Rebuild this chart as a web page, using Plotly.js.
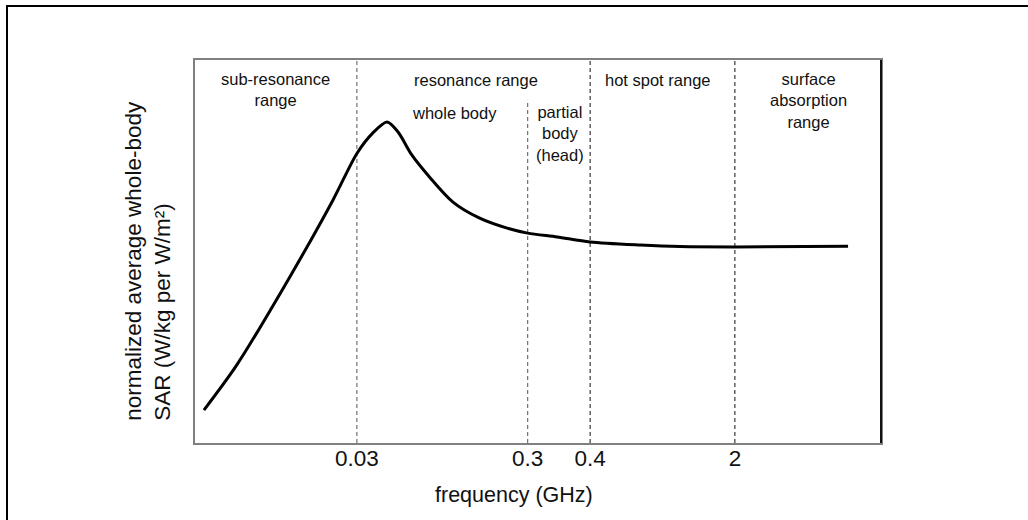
<!DOCTYPE html>
<html>
<head>
<meta charset="utf-8">
<script src="https://cdn.plot.ly/plotly-3.0.1.min.js"></script>
<style>
  html, body { margin: 0; padding: 0; background: #fff; }
  #wrap { position: relative; width: 1028px; height: 520px; overflow: hidden; }
  #frame { position: absolute; left: 6px; top: 5px; width: 1040px; height: 540px;
           border-left: 2px solid #000; border-top: 2px solid #000; pointer-events: none; }
  #chart { position: absolute; left: 0; top: 0; width: 1028px; height: 520px; }
</style>
</head>
<body>
<div id="wrap">
  <div id="chart"></div>
  <div id="frame"></div>
</div>
<script>
// Schematic frequency position (0-100 across the axis) and normalized SAR (0-100)
const curveX = [1.3, 6.1, 13.8, 20.1, 23.6, 25.9, 28.0, 29.6, 31.6, 34.3, 37.6, 41.5, 45.5, 48.5, 52.8, 57.6, 64.9, 70.7, 78.7, 95.2];
const curveY = [8.6, 20.4, 43.3, 63.4, 75.6, 80.9, 83.8, 81.2, 75.2, 69.2, 62.9, 58.7, 56.1, 54.8, 53.8, 52.5, 51.7, 51.3, 51.2, 51.4];

// Boundary frequencies (tick positions and labels)
const tickPos = [23.6, 48.5, 57.6, 78.7];
const tickLabels = ['0.03', '0.3', '0.4', '2'];
// Top of each boundary line (fraction of plot height)
const boundaryTop = [1, 0.896, 1, 1];
const boundaryColor = ['#555', '#555', '#111', '#111'];

// Range labels
const labelText = ['sub-resonance<br>range', 'resonance range', 'whole body', 'partial<br>body<br>(head)', 'hot spot range', 'surface<br>absorption<br>range'];
const labelX = [11.8, 41.0, 37.9, 53.2, 67.5, 89.4];
const labelY = [0.922, 0.948, 0.862, 0.807, 0.948, 0.893];

const FONT = '"Liberation Sans", Arial, sans-serif';

const shapes = tickPos.map((p, i) => ({
  type: 'line', xref: 'x', yref: 'paper', x0: p, x1: p, y0: 0, y1: boundaryTop[i],
  line: { color: boundaryColor[i], width: 1, dash: '4px,3px' }, layer: 'below'
}));
shapes.push({ type: 'line', xref: 'paper', yref: 'paper', x0: 1, x1: 1, y0: 0, y1: 1,
  line: { color: '#111', width: 2 } });

const annotations = labelText.map((t, i) => ({
  text: t, x: labelX[i], y: labelY[i], xref: 'x', yref: 'paper',
  xanchor: 'center', yanchor: 'middle', showarrow: false, align: 'center',
  font: { family: FONT, size: 16.5, color: '#111' }
}));
annotations.push({
  text: 'normalized average whole-body<br>SAR (W/kg per W/m²)',
  xref: 'paper', yref: 'paper', x: -0.069, y: 0.052, xanchor: 'center', yanchor: 'bottom',
  textangle: -90, align: 'left', showarrow: false,
  font: { family: FONT, size: 22.5, color: '#111' }
});
annotations.push({
  text: 'frequency (GHz)', xref: 'paper', yref: 'paper', x: 0.465, y: -0.136,
  xanchor: 'center', yanchor: 'middle', showarrow: false,
  font: { family: FONT, size: 21.5, color: '#111' }
});

const trace = {
  x: curveX, y: curveY, type: 'scatter', mode: 'lines',
  line: { color: '#000', width: 3, shape: 'spline', smoothing: 0.8 },
  hoverinfo: 'skip'
};

const layout = {
  width: 1028, height: 520,
  margin: { l: 195, r: 147, t: 60, b: 77 },
  paper_bgcolor: '#fff', plot_bgcolor: '#fff',
  showlegend: false,
  xaxis: {
    range: [0, 100], showgrid: false, zeroline: false,
    showline: true, linecolor: '#808080', linewidth: 2, mirror: true,
    tickmode: 'array', tickvals: tickPos, ticktext: tickLabels, ticks: '', ticklen: 0,
    ticklabelstandoff: -6,
    tickfont: { family: FONT, size: 22.5, color: '#111' }
  },
  yaxis: {
    range: [0, 100], showgrid: false, zeroline: false,
    showline: true, linecolor: '#808080', linewidth: 2, mirror: true,
    showticklabels: false, ticks: ''
  },
  shapes: shapes,
  annotations: annotations
};

Plotly.newPlot('chart', [trace], layout, { staticPlot: true, displayModeBar: false });
</script>
</body>
</html>
